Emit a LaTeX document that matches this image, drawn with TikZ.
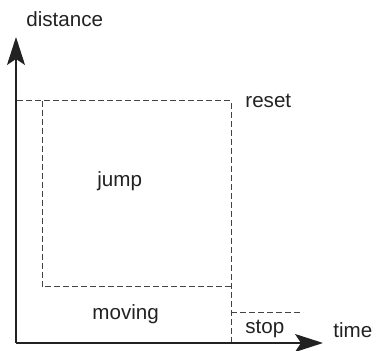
\documentclass[tikz,border=0pt]{standalone}
\usepackage{fontspec}
\setmainfont{Liberation Sans}
\usetikzlibrary{arrows.meta}
\definecolor{ink}{HTML}{222222}
\definecolor{dashink}{HTML}{444444}
\tikzset{
  axisline/.style={line width=0.65pt, draw=ink, -{Stealth[length=14pt,width=9pt,inset=3pt]}},
  region/.style={line width=0.5pt, draw=dashink, dash pattern=on 2.8pt off 1.7pt},
  lbl/.style={inner sep=0pt, anchor=base west, text=ink, font=\fontsize{10.3}{12}\selectfont},
}
\begin{document}
\begin{tikzpicture}[x=0.5pt,y=-0.5pt]
\useasboundingbox (0,0) rectangle (380,351);
% coordinates
\coordinate (O) at (16,343);
\coordinate (Ytip) at (16,37);
\coordinate (Xtip) at (323,343);
\coordinate (TL) at (17,101);
\coordinate (TR) at (231,101);
\coordinate (BR) at (231,343);
\coordinate (IT) at (42,101);
\coordinate (IB) at (42,287);
\coordinate (IR) at (231,287);
\coordinate (SL) at (231,313);
\coordinate (SR) at (303,313);
% dashed regions
\draw[region] (TL) -- (TR) -- (BR);
\draw[region] (IT) -- (IB) -- (IR);
\draw[region] (SL) -- (SR);
% axes
\draw[axisline] (O) -- (Ytip);
\draw[axisline] (O) -- (Xtip);
% labels
\node[lbl] (distance) at (26,27) {distance};
\node[lbl] (reset) at (245,108) {reset};
\node[lbl] (jump) at (97,187) {jump};
\node[lbl] (moving) at (92,320) {moving};
\node[lbl] (stop) at (245,334) {stop};
\node[lbl] (time) at (333,338) {time};
\end{tikzpicture}
\end{document}
